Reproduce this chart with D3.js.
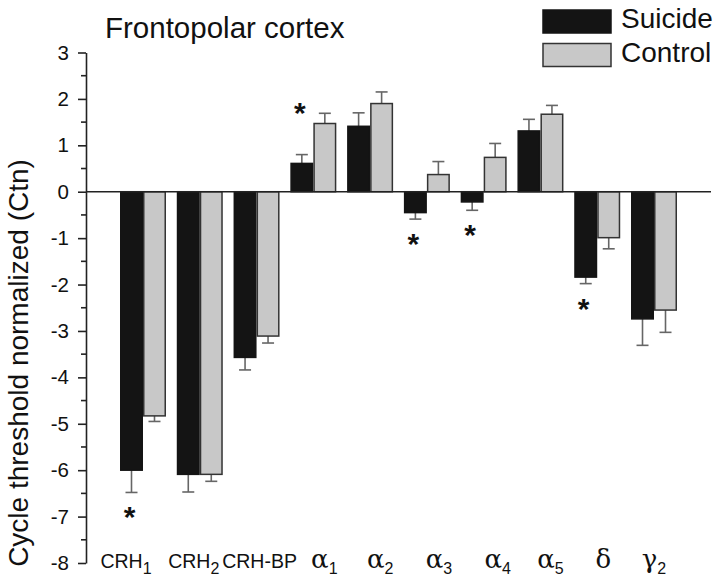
<!DOCTYPE html>
<html><head><meta charset="utf-8">
<script src="https://cdn.jsdelivr.net/npm/d3@7"></script>
<style>
html,body{margin:0;padding:0;background:#fff;}
svg{display:block;font-family:"Liberation Sans",Arial,sans-serif;}
</style></head>
<body><svg id="chart" width="720" height="582"></svg>
<script>
// ---- data ----
const categories = ["CRH1","CRH2","CRH-BP","α1","α2","α3","α4","α5","δ","γ2"];
const labelMain = ["CRH","CRH","CRH-BP","α","α","α","α","α","δ","γ"];
const labelSub  = ["1","2","","1","2","3","4","5","","2"];
const series = ["Suicide","Control"];
const suicideValues = [-6.00,-6.09,-3.57,0.61,1.41,-0.45,-0.22,1.31,-1.84,-2.74];
const suicideErrors = [0.48,0.38,0.27,0.19,0.29,0.14,0.18,0.25,0.14,0.57];
const controlValues = [-4.83,-6.09,-3.11,1.47,1.90,0.37,0.74,1.67,-0.99,-2.55];
const controlErrors = [0.12,0.15,0.15,0.22,0.25,0.28,0.30,0.19,0.24,0.48];
const significant = [true,false,false,true,false,true,true,false,true,false];
const yTicks = [3,2,1,0,-1,-2,-3,-4,-5,-6,-7,-8];
const yMinorTicks = [2.5,1.5,0.5,-0.5,-1.5,-2.5,-3.5,-4.5,-5.5,-6.5,-7.5];
const title = "Frontopolar cortex";
const yLabel = "Cycle threshold normalized (Ctn)";

// layout constants (label nudges as in the original figure)
const labelNudge = [-17,-6,3,11,10,12,14,10,6,0];
const colors = {Suicide:"#141414", Control:"#c8c8c8"};

const svg = d3.select("#chart");
const y = d3.scaleLinear().domain([-8,3]).range([563,52.5]);
const x = d3.scaleBand().domain(categories).range([120,677]).paddingInner(0.19).paddingOuter(0);
const x1 = d3.scaleBand().domain(series).range([0,x.bandwidth()]).padding(0);

const rows = categories.map((c,i)=>({
  cat:c, i,
  vals:[{s:"Suicide",v:suicideValues[i],e:suicideErrors[i]},{s:"Control",v:controlValues[i],e:controlErrors[i]}]
}));

// y axis
const axisX = 86;
const yAxis = svg.append("g").attr("transform",`translate(${axisX},0)`)
  .call(d3.axisLeft(y).tickValues(yTicks).tickFormat(d3.format("d")).tickSizeInner(8).tickSizeOuter(0).tickPadding(9));
yAxis.select(".domain").attr("stroke","#222").attr("stroke-width",1.6);
yAxis.selectAll(".tick line").attr("stroke","#222").attr("stroke-width",1.6);
yAxis.selectAll(".tick text").attr("font-size",20.5).attr("fill","#111")
  .attr("font-family","Liberation Sans, Arial, sans-serif")
  .text(d=> d<0 ? "-"+Math.abs(d) : d);
yAxis.selectAll(".minor").data(yMinorTicks).enter().append("line")
  .attr("x1",-5).attr("x2",0).attr("y1",d=>y(d)).attr("y2",d=>y(d))
  .attr("stroke","#222").attr("stroke-width",1.6);

// bars
const g = svg.append("g");
const groups = g.selectAll(".grp").data(rows).enter().append("g")
  .attr("transform",d=>`translate(${x(d.cat)},0)`);

groups.selectAll(".err").data(d=>d.vals).enter().append("g").each(function(d){
  const cx = x1(d.s)+x1.bandwidth()/2;
  const end = d.v>=0 ? d.v+d.e : d.v-d.e;
  const gg = d3.select(this);
  gg.append("line").attr("x1",cx).attr("x2",cx).attr("y1",y(d.v)).attr("y2",y(end))
    .attr("stroke","#666").attr("stroke-width",1.6);
  gg.append("line").attr("x1",cx-6).attr("x2",cx+6).attr("y1",y(end)).attr("y2",y(end))
    .attr("stroke","#666").attr("stroke-width",1.6);
});

groups.selectAll("rect").data(d=>d.vals).enter().append("rect")
  .attr("x",d=>x1(d.s)+0.75)
  .attr("width",x1.bandwidth()-1.5)
  .attr("y",d=>y(Math.max(0,d.v)))
  .attr("height",d=>Math.abs(y(d.v)-y(0)))
  .attr("fill",d=>colors[d.s])
  .attr("stroke",d=>d.s==="Control"?"#333":"#141414")
  .attr("stroke-width",1.5);

// zero line
svg.append("line").attr("x1",axisX).attr("x2",711).attr("y1",y(0)).attr("y2",y(0))
  .attr("stroke","#222").attr("stroke-width",1.6);

// significance asterisks
groups.filter(d=>significant[d.i]).append("text")
  .attr("x",x1("Suicide")+x1.bandwidth()/2-2)
  .attr("y",d=>{
    const s=d.vals[0];
    if(s.v<0){ return y(s.v-s.e)+19+16; }
    const top = d3.max(d.vals,v=>v.v+v.e);
    return y(top)-6+16;
  })
  .attr("text-anchor","middle").attr("font-size",30).attr("font-weight","bold")
  .attr("fill","#111").text("*");

// x labels
const xl = svg.append("g").selectAll("text").data(rows).enter().append("text")
  .attr("x",d=>x(d.cat)+x.bandwidth()/2+labelNudge[d.i])
  .attr("y",568)
  .attr("text-anchor","middle").attr("fill","#111");
xl.append("tspan")
  .attr("font-family",(d)=> labelMain[d.i].startsWith("CRH") ? "Liberation Sans, Arial, sans-serif" : "DejaVu Serif, Liberation Serif, serif")
  .attr("font-size",(d)=> labelMain[d.i].startsWith("CRH") ? 19.5 : 26)
  .text(d=>labelMain[d.i]);
xl.filter(d=>labelSub[d.i]!=="").append("tspan")
  .attr("font-size",16).attr("dy",6)
  .attr("font-family","Liberation Sans, Arial, sans-serif")
  .text(d=>labelSub[d.i]);

// title
svg.append("text").attr("x",105).attr("y",38).attr("font-size",29.5).attr("fill","#111").text(title);

// y label
svg.append("text").attr("transform","translate(28,363) rotate(-90)")
  .attr("text-anchor","middle").attr("font-size",28).attr("fill","#111").text(yLabel);

// legend
const leg = svg.append("g");
series.forEach((s,i)=>{
  leg.append("rect").attr("x",543).attr("y",10+i*33.5).attr("width",68).attr("height",23)
    .attr("fill",colors[s]).attr("stroke",s==="Control"?"#333":"#141414").attr("stroke-width",1.5);
  leg.append("text").attr("x",621).attr("y",28+i*34).attr("font-size",28).attr("fill","#111").text(s);
});
</script></body></html>
